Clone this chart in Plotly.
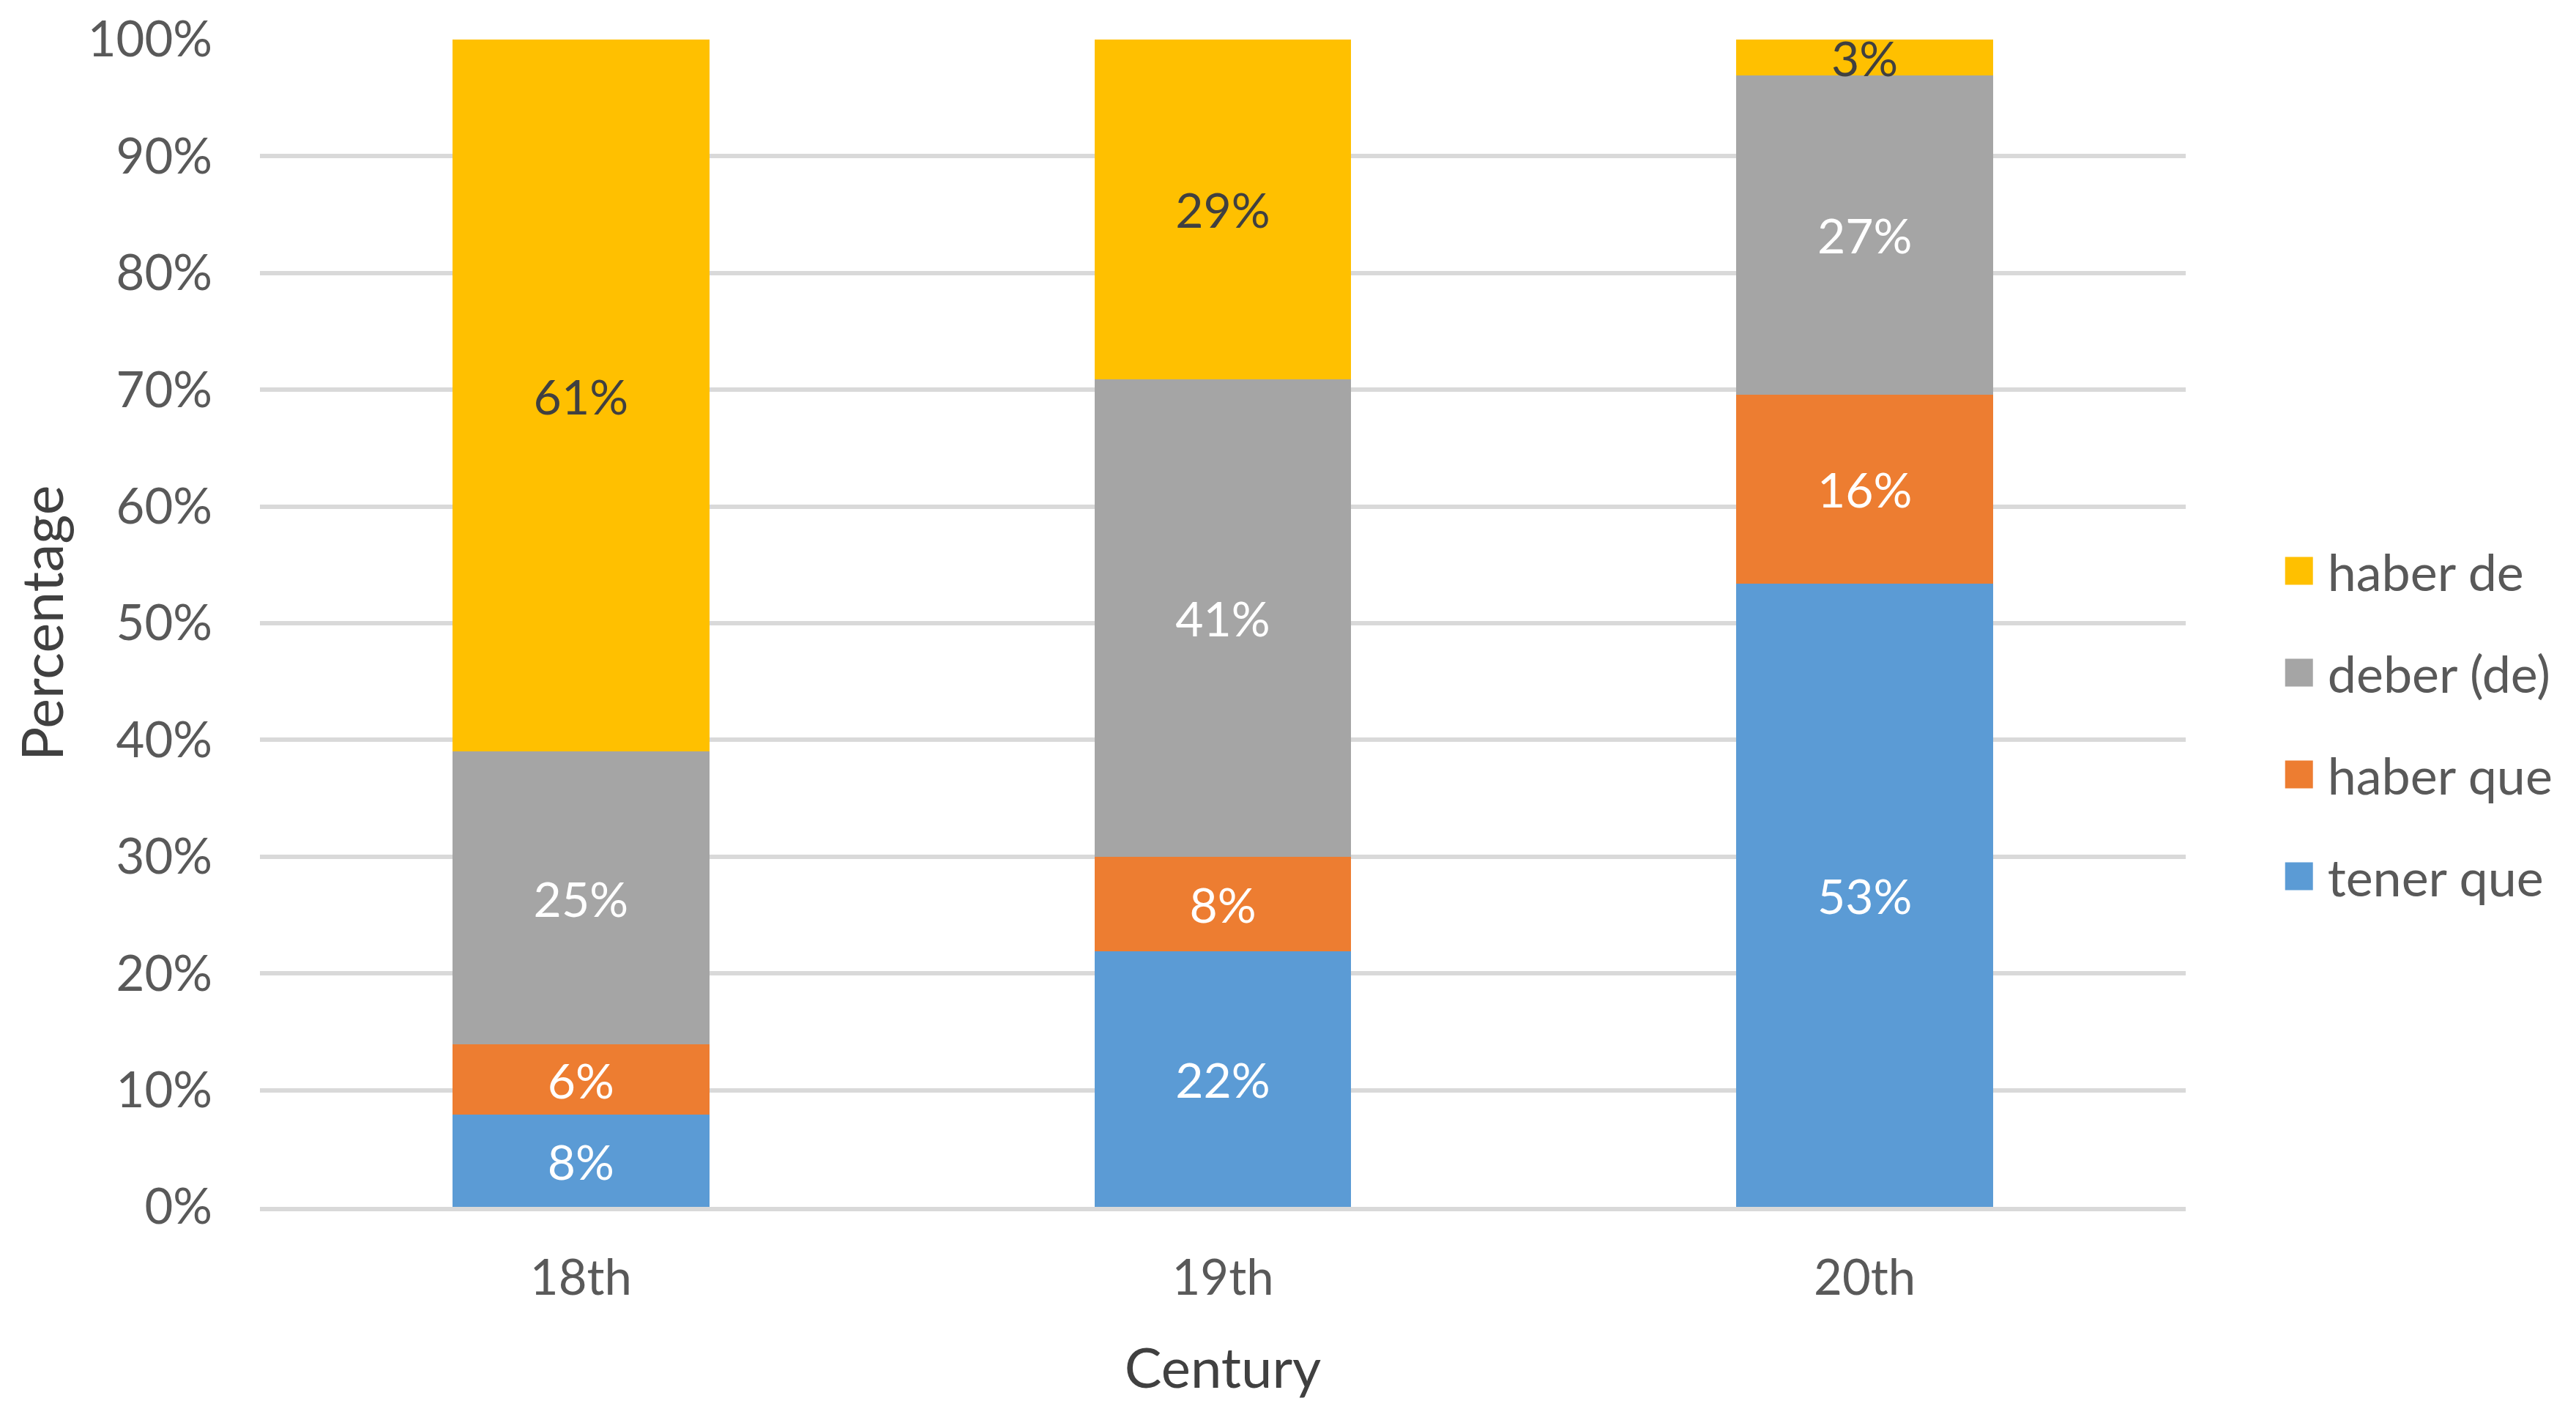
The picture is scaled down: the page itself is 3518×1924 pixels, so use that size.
import plotly.graph_objects as go

centuries = ["18th", "19th", "20th"]
series_names = ["tener que", "haber que", "deber (de)", "haber de"]
tener_que = [7.9, 21.9, 53.4]
haber_que = [6.0, 8.1, 16.2]
deber_de = [25.1, 40.9, 27.3]
haber_de = [61.0, 29.1, 3.1]
colors = ["#5B9BD5", "#ED7D31", "#A5A5A5", "#FFC000"]
label_colors = ["#FFFFFF", "#FFFFFF", "#FFFFFF", "#404040"]
legend_ranks = [4, 3, 2, 1]
y_ticks = [0, 10, 20, 30, 40, 50, 60, 70, 80, 90, 100]

FONT = "Lato"
fig = go.Figure()
for name, vals, col, lc, rk in zip(series_names, [tener_que, haber_que, deber_de, haber_de],
                                   colors, label_colors, legend_ranks):
    fig.add_trace(go.Bar(
        x=centuries, y=vals, name=name, legendgroup=name, legendrank=rk,
        marker=dict(color=col, line=dict(width=0)),
        texttemplate="%{y:.0f}%", textposition="inside", insidetextanchor="middle",
        constraintext="none", cliponaxis=False,
        insidetextfont=dict(family=FONT, size=66, color=lc),
        hoverinfo="skip",
    ))

fig.update_layout(
    template="none",
    width=3502, height=1908,
    barmode="stack", bargap=0.6,
    paper_bgcolor="white", plot_bgcolor="white",
    margin=dict(l=347, r=525, t=46, b=268),
    font=dict(family=FONT, color="#595959"),
    showlegend=True,
    legend=dict(x=1.044, y=0.414, xanchor="left", yanchor="middle",
                traceorder="grouped", tracegroupgap=45,
                font=dict(family=FONT, size=70, color="#595959"),
                itemwidth=68, bgcolor="rgba(0,0,0,0)", borderwidth=0),
    annotations=[dict(text="Percentage", xref="paper", yref="paper", x=-0.1137, y=0.5,
                      xanchor="center", yanchor="middle", textangle=-90, showarrow=False,
                      font=dict(family=FONT, size=77, color="#404040"))],
)
fig.update_yaxes(
    automargin=False,
    range=[0, 100], tickvals=y_ticks, ticktext=[f"{v}%" for v in y_ticks],
    showgrid=True, gridcolor="#D9D9D9", gridwidth=6,
    zeroline=False, showline=False, ticks="",
    ticklabelstandoff=64,
    tickfont=dict(family=FONT, size=67, color="#595959"),
)
fig.update_xaxes(
    automargin=False,
    showgrid=False, zeroline=False, showline=True, linecolor="#D9D9D9", linewidth=6,
    ticks="", ticklabelstandoff=34,
    tickfont=dict(family=FONT, size=67, color="#595959"),
    title=dict(text="Century", font=dict(family=FONT, size=76, color="#404040"), standoff=62),
)

post = """
var gd = document.getElementById('{plot_id}');
function fixLegend(){
  gd.querySelectorAll('.legendpoints path').forEach(function(p){ p.setAttribute('d','M19,19H-19V-19H19Z'); });
}
fixLegend();
if (gd.on) { gd.on('plotly_afterplot', fixLegend); }
setTimeout(fixLegend, 50); setTimeout(fixLegend, 300);
"""
fig.write_html("out.html", post_script=post)
